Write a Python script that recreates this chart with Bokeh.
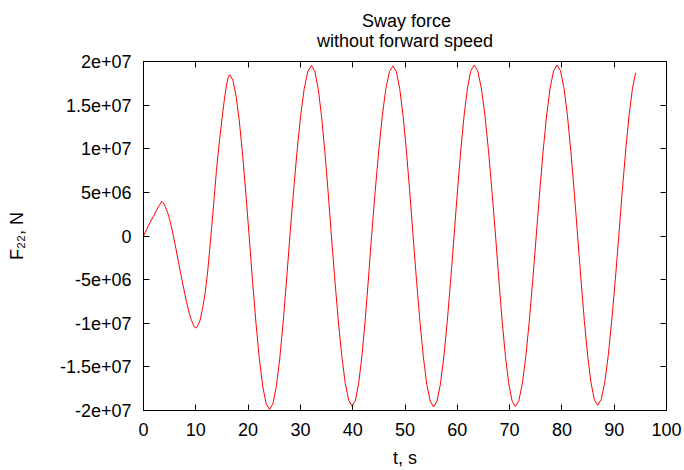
import numpy as np
from bokeh.plotting import figure
from bokeh.models import LinearAxis, FixedTicker, Range1d, ColumnDataSource
from bokeh.embed import file_html
from bokeh.resources import INLINE

# ---- data (time in s, force in 1e6 N) ----
t_s = [
    0, 0.6, 1.25, 1.9, 2.5, 3.0, 3.5, 3.8, 4.2, 4.6, 5.0, 5.4, 5.71,
    6.2, 6.7, 7.2, 7.7, 8.2, 8.7, 9.2, 9.6, 9.95, 10.3, 10.8, 11.3, 11.8,
    12.3, 12.89, 13.45, 13.95, 14.45, 14.98, 15.45, 15.9, 16.2, 16.47,
    17.09, 17.71, 18.34, 18.96, 19.58, 20.20,
    20.85, 21.5, 22.15, 22.8, 23.45, 24.1,
    24.75, 25.40, 26.05, 26.69, 27.34, 27.99,
    28.68, 29.37, 30.05, 30.74, 31.43, 32.12,
    32.76, 33.39, 34.03, 34.66, 35.30, 35.93,
    36.59, 37.25, 37.92, 38.58, 39.24, 39.90,
    40.52, 41.14, 41.76, 42.37, 42.99, 43.61,
    44.29, 44.98, 45.66, 46.34, 47.03, 47.71,
    48.35, 48.99, 49.63, 50.27, 50.91, 51.55,
    52.20, 52.86, 53.51, 54.16, 54.82, 55.47,
    56.12, 56.77, 57.43, 58.08, 58.73, 59.38,
    60.02, 60.66, 61.31, 61.95, 62.59, 63.23,
    63.91, 64.59, 65.28, 65.96, 66.64, 67.32,
    67.95, 68.58, 69.21, 69.84, 70.47, 71.10,
    71.77, 72.43, 73.10, 73.76, 74.43, 75.09,
    75.76, 76.42, 77.09, 77.75, 78.42, 79.08,
    79.74, 80.39, 81.05, 81.70, 82.36, 83.01,
    83.65, 84.29, 84.93, 85.56, 86.20, 86.84,
    87.51, 88.19, 88.86, 89.53, 90.21, 90.88,
    91.53, 92.19, 92.84, 93.49, 94.09,
]
force_MN = [
    0, 0.75, 1.55, 2.25, 2.95, 3.5, 3.98, 3.8, 3.3, 2.7, 1.9, 0.9, 0,
    -1.45, -3.0, -4.55, -6.05, -7.5, -8.75, -9.7, -10.3, -10.55, -10.4, -9.7, -8.3, -6.5,
    -3.9, 0, 3.9, 7.5, 10.5, 13.3, 15.6, 17.4, 18.2, 18.5,
    17.87, 16.02, 13.08, 9.25, 4.79, 0,
    -5.15, -9.95, -14.07, -17.23, -19.22, -19.9,
    -19.22, -17.23, -14.07, -9.95, -5.15, 0,
    5.06, 9.78, 13.82, 16.93, 18.88, 19.55,
    18.88, 16.93, 13.82, 9.78, 5.06, 0,
    -5.05, -9.75, -13.79, -16.89, -18.84, -19.5,
    -18.84, -16.89, -13.79, -9.75, -5.05, 0,
    5.05, 9.75, 13.79, 16.89, 18.84, 19.5,
    18.84, 16.89, 13.79, 9.75, 5.05, 0,
    -5.07, -9.8, -13.86, -16.97, -18.93, -19.6,
    -18.93, -16.97, -13.86, -9.8, -5.07, 0,
    5.07, 9.8, 13.86, 16.97, 18.93, 19.6,
    18.93, 16.97, 13.86, 9.8, 5.07, 0,
    -5.06, -9.78, -13.82, -16.93, -18.88, -19.55,
    -18.88, -16.93, -13.82, -9.78, -5.06, 0,
    5.07, 9.8, 13.86, 16.97, 18.93, 19.6,
    18.93, 16.97, 13.86, 9.8, 5.07, 0,
    -5.02, -9.7, -13.72, -16.8, -18.74, -19.4,
    -18.74, -16.8, -13.72, -9.7, -5.02, 0,
    5.05, 9.75, 13.79, 16.89, 18.7,
]

x_ticks = [0, 10, 20, 30, 40, 50, 60, 70, 80, 90, 100]
y_ticks = [-20000000, -15000000, -10000000, -5000000, 0,
           5000000, 10000000, 15000000, 20000000]
y_tick_labels = ["-2e+07", "-1.5e+07", "-1e+07", "-5e+06", "0",
                 "5e+06", "1e+07", "1.5e+07", "2e+07"]
title_lines = ["Sway force", "without forward speed"]
x_label = "t, s"
y_label = "F\u2082\u2082, N"

FONT = "Liberation Sans"
FS = "18px"

src = ColumnDataSource(dict(t=t_s, f=np.array(force_MN) * 1e6))

p = figure(width=684, height=470, output_backend="svg", toolbar_location=None,
           x_range=Range1d(0, 100), y_range=Range1d(-2e7, 2e7),
           min_border_left=143, min_border_right=18,
           min_border_top=61, min_border_bottom=59,
           background_fill_color="white", border_fill_color="white")

# Bokeh left-aligns the lines of a multi-line title, so the short first line is
# padded with no-break spaces to sit centred over the second one.
pad = "\u00a0" * 9
p.title.text = pad + title_lines[0] + "\n" + title_lines[1]
p.title.align = "center"
p.title.vertical_align = "top"
p.title.standoff = 18
p.title.text_font = FONT
p.title.text_font_size = FS
p.title.text_font_style = "normal"
p.title.text_color = "black"

p.line("t", "f", source=src, line_color="#ff0000", line_width=1)

p.xgrid.visible = False
p.ygrid.visible = False
p.outline_line_color = "black"
p.outline_line_width = 1

def style_axis(ax, labels=True):
    ax.major_tick_in = 6
    ax.major_tick_out = 0
    ax.minor_tick_line_color = None
    ax.axis_line_color = "black"
    ax.major_tick_line_color = "black"
    ax.major_label_text_font = FONT
    ax.major_label_text_color = "black"
    ax.axis_label_text_font = FONT
    ax.axis_label_text_font_size = FS
    ax.axis_label_text_font_style = "normal"
    ax.axis_label_text_color = "black"
    if labels:
        ax.major_label_text_font_size = FS
    else:
        ax.major_label_text_font_size = "1px"
        ax.major_label_text_color = None
        ax.major_label_standoff = 0

xb = p.xaxis[0]
xb.ticker = FixedTicker(ticks=x_ticks)
style_axis(xb)
xb.axis_label = x_label
xb.major_label_standoff = 12
xb.axis_label_standoff = 9

yl = p.yaxis[0]
yl.ticker = FixedTicker(ticks=y_ticks)
yl.major_label_overrides = {v: s for v, s in zip(y_ticks, y_tick_labels)}
style_axis(yl)
yl.axis_label = y_label
yl.major_label_standoff = 12
yl.axis_label_standoff = 30

xt = LinearAxis(ticker=FixedTicker(ticks=x_ticks))
style_axis(xt, labels=False)
p.add_layout(xt, "above")

yr = LinearAxis(ticker=FixedTicker(ticks=y_ticks))
style_axis(yr, labels=False)
p.add_layout(yr, "right")

open("out.html", "w").write(file_html(p, INLINE))
